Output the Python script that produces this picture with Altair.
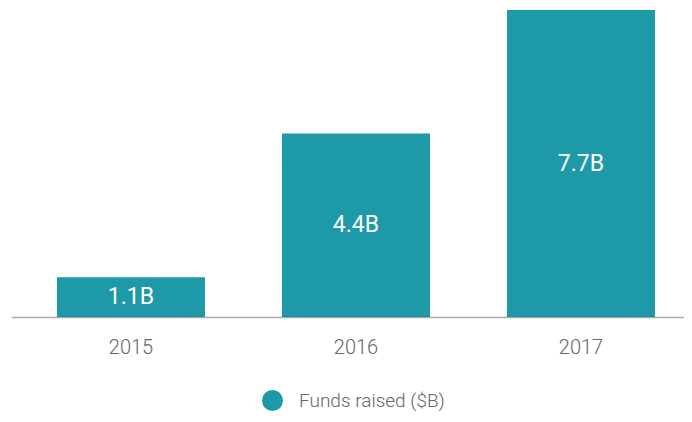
import altair as alt
import pandas as pd

years = ["2015", "2016", "2017"]
funds = [1.0, 4.6, 7.7]          # bar heights ($B)
labels = ["1.1B", "4.4B", "7.7B"]
series = ["Funds raised ($B)"] * 3

df = pd.DataFrame({"year": years, "funds": funds, "label": labels, "series": series})

TEAL = "#1E99A8"

x = alt.X(
    "year:N",
    sort=years,
    scale=alt.Scale(paddingInner=0.3422, paddingOuter=0.1667, align=0.613),
    axis=alt.Axis(
        title=None,
        labelAngle=0,
        ticks=False,
        labelFont="Roboto",
        labelFontSize=20,
        labelFontWeight=300,
        labelColor="#666666",
        labelPadding=20,
        domainColor="#000000",
        domainOpacity=0.33,
        domainWidth=1.5,
        grid=False,
        zindex=1,
    ),
)

bars = alt.Chart(df).mark_bar(size=148).encode(
    x=x,
    y=alt.Y("funds:Q", scale=alt.Scale(domain=[0, 7.7], nice=False, zero=True), axis=None),
    color=alt.Color(
        "series:N",
        scale=alt.Scale(range=[TEAL]),
        legend=alt.Legend(
            title=None,
            orient="none",
            legendX=251,
            legendY=380,
            symbolType="circle",
            symbolSize=441,
            symbolStrokeWidth=0,
            symbolOpacity=1,
            labelFont="Roboto",
            labelFontSize=19,
            labelFontWeight=300,
            labelColor="#666666",
            labelOffset=16,
            padding=0,
        ),
    ),
)

text = alt.Chart(df).transform_calculate(mid="datum.funds / 2").mark_text(
    font="Roboto", fontSize=23, color="white", baseline="middle", align="center"
).encode(
    x=alt.X("year:N", sort=years),
    y=alt.Y("mid:Q"),
    text="label:N",
)

chart = (
    alt.layer(bars, text)
    .properties(
        width=673,
        height=307,
        padding={"left": 3, "top": 2, "right": 0, "bottom": 97},
        autosize=alt.AutoSizeParams(type="none"),
    )
    .configure_view(stroke=None)
)

chart.save("out.html", embed_options={"renderer": "svg", "actions": False})
